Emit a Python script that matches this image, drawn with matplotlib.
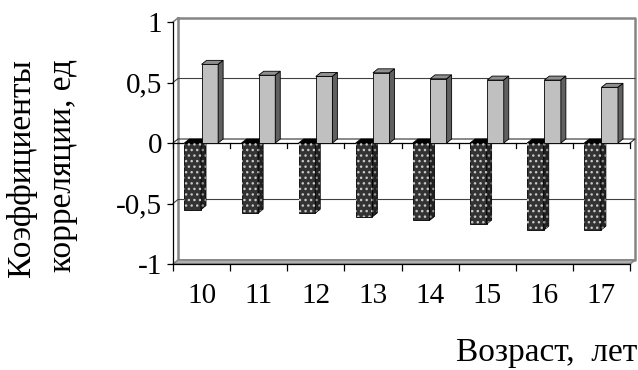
import numpy as np
import matplotlib.pyplot as plt
from matplotlib.patches import Polygon

plt.rcParams['font.family'] = ['Liberation Serif', 'DejaVu Serif']

ages = ['10', '11', '12', '13', '14', '15', '16', '17']
pos_vals = [0.65, 0.56, 0.55, 0.58, 0.53, 0.52, 0.52, 0.46]
neg_vals = [-0.55, -0.58, -0.58, -0.61, -0.64, -0.67, -0.72, -0.72]

# depth of the fake 3d box, in data units (about 5 px right, 4 px up)
ox, oy = 0.0875, 0.033
bw = 0.29

fig = plt.figure(figsize=(6.38, 3.70), dpi=100)
ax = fig.add_axes([173/638, 1 - 264/370, 457/638, 242/370])
ax.set_xlim(0, len(ages))
ax.set_ylim(-1, 1)
n = len(ages)

def poly(pts, fc, ec='black', lw=0.6, z=2, hatch=None):
    p = Polygon(pts, closed=True, facecolor=fc, edgecolor=ec, linewidth=lw,
                zorder=z, clip_on=False, hatch=hatch)
    ax.add_patch(p)
    return p

# walls and floor
wall = '#858585'
ax.plot([ox, n + ox, n + ox, ox, ox], [1 + oy, 1 + oy, -1 + oy, -1 + oy, 1 + oy],
        color=wall, lw=1.8, zorder=1, clip_on=False)
ax.plot([0, ox], [1, 1 + oy], color=wall, lw=1.2, clip_on=False, zorder=1)
poly([(0, -1), (n, -1), (n + ox, -1 + oy), (ox, -1 + oy)], '#b0b0b0', ec=wall, lw=1.2, z=1)
for g in [0.5, -0.5]:
    ax.plot([0, ox, n + ox], [g, g + oy, g + oy], color='#404040', lw=0.8,
            zorder=1, clip_on=False)

# zero plane
ax.plot([0, ox, n + ox, n], [0, oy, oy, 0], color='#303030', lw=0.8, zorder=1, clip_on=False)
ax.plot([0, n], [0, 0], color='black', lw=0.9, zorder=1.5, clip_on=False)
for i in range(n + 1):
    ax.plot([i, i], [0, -0.04], color='black', lw=0.9, zorder=1.5, clip_on=False)

x = np.arange(n)
xn = x + 0.2
xp = x + 0.5

# negative series (dark dotted)
ax.bar(xn, neg_vals, width=bw, align='edge', color='#333333', edgecolor='black',
       linewidth=0.6, zorder=2)
ax.bar(xn, neg_vals, width=bw, align='edge', color='none', edgecolor='#c8c8c8',
       linewidth=0, hatch='...', zorder=2.1)
for x0, v in zip(xn, neg_vals):
    x1 = x0 + bw
    poly([(x0, 0), (x1, 0), (x1 + ox, oy), (x0 + ox, oy)], 'black', z=2)
    poly([(x1, v), (x1, 0), (x1 + ox, oy), (x1 + ox, v + oy)], '#222222', z=2)
    poly([(x1, v), (x1, 0), (x1 + ox, oy), (x1 + ox, v + oy)], 'none',
         ec='#909090', lw=0, z=2.1, hatch='...')

# positive series (light grey)
ax.bar(xp, pos_vals, width=bw, align='edge', color='#c0c0c0', edgecolor='black',
       linewidth=0.6, zorder=3)
for x0, v in zip(xp, pos_vals):
    x1 = x0 + bw
    poly([(x0, v), (x1, v), (x1 + ox, v + oy), (x0 + ox, v + oy)], '#8f8f8f', z=3)
    poly([(x1, 0), (x1, v), (x1 + ox, v + oy), (x1 + ox, oy)], '#606060', z=3)

# axes
for s in ['top', 'right']:
    ax.spines[s].set_visible(False)
ax.spines['left'].set_linewidth(0.9)
ax.spines['bottom'].set_linewidth(0.9)
ax.set_yticks([-1, -0.5, 0, 0.5, 1])
ax.set_yticklabels(['-1', '-0,5', '0', '0,5', '1'])
ax.tick_params(axis='y', direction='out', length=4, width=0.9, pad=4, labelsize=21)
ax.set_xticks(x + 0.5)
ax.set_xticklabels(ages)
ax.set_xticks(np.arange(n + 1), minor=True)
ax.tick_params(axis='x', which='major', length=0, pad=14, labelsize=21)
ax.tick_params(axis='x', which='minor', direction='out', length=5, width=0.9)
ax.patch.set_alpha(0)

fig.text(22/638, 1 - 168/370, 'Коэффициенты', rotation=90, ha='center', va='center', fontsize=24)
fig.text(63/638, 1 - 165/370, 'корреляции, ед', rotation=90, ha='center', va='center', fontsize=24)
fig.text(637/638, 1 - 353/370, 'Возраст,  лет', ha='right', va='center', fontsize=24)

fig.savefig('out.png', dpi=100)
